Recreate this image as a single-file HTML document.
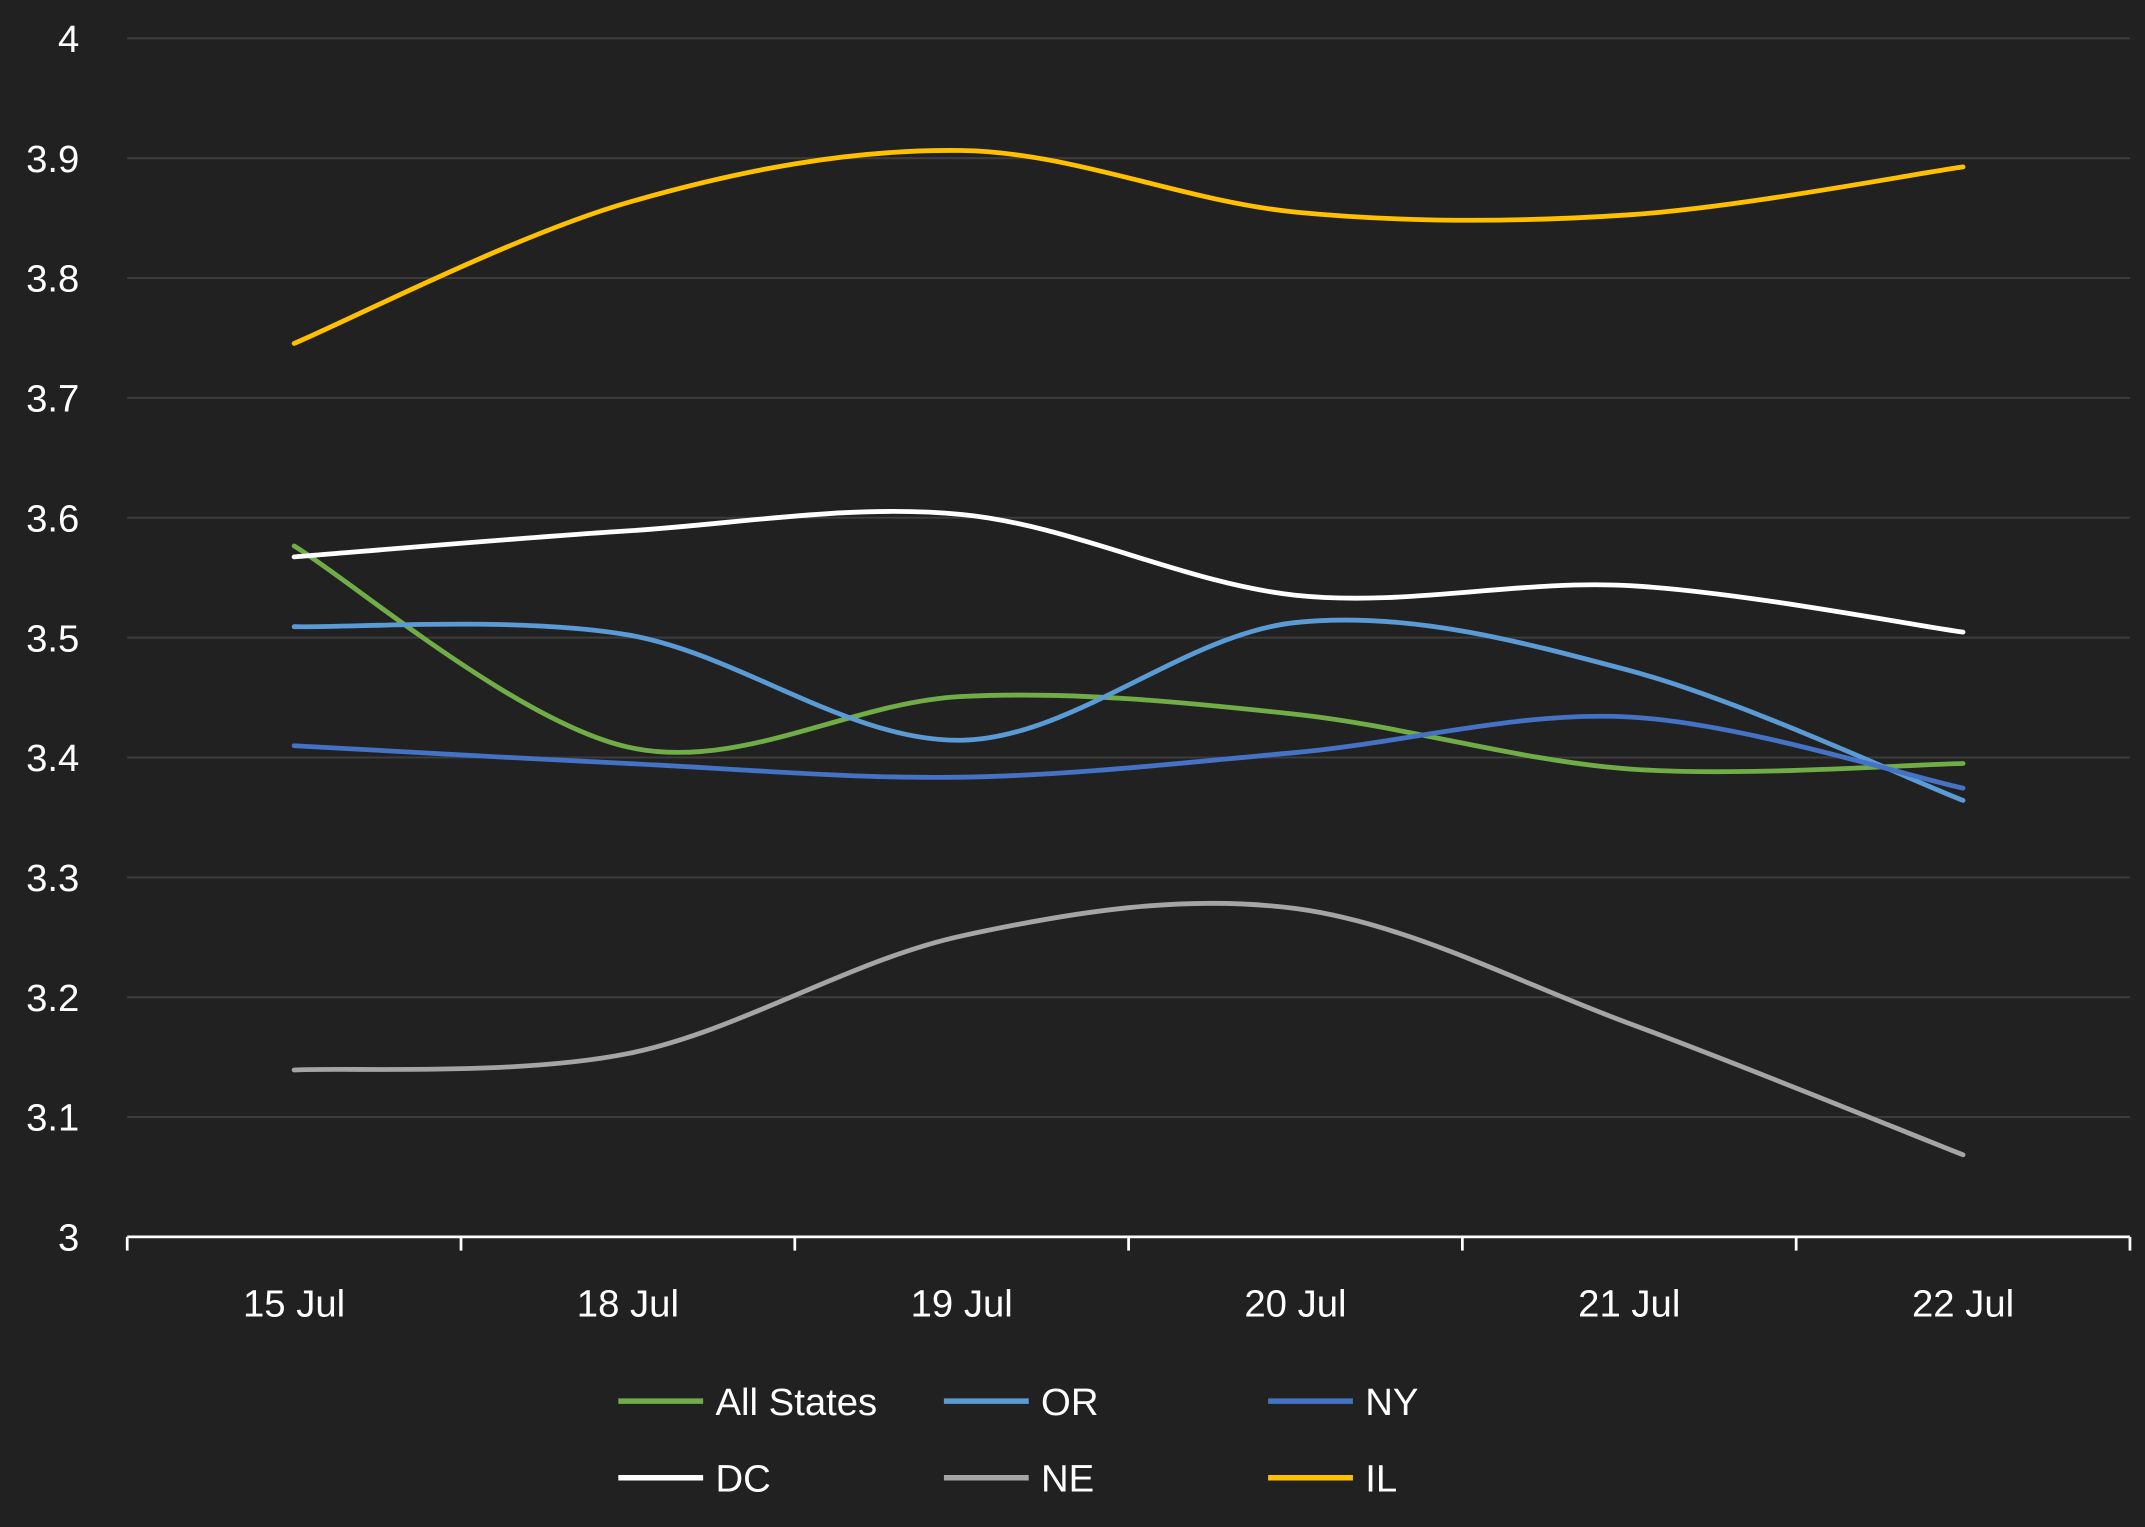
<!DOCTYPE html>
<html><head><meta charset="utf-8"><style>
html,body{margin:0;padding:0;background:#212121;}
svg{display:block;}
text{font-family:"Liberation Sans",sans-serif;fill:#fff;}
</style></head><body>
<svg id="s" width="2145" height="1527" viewBox="0 0 1568 1116" preserveAspectRatio="none" xmlns="http://www.w3.org/2000/svg">
<rect width="1568" height="1116" fill="#212121"/>
<g id="grid" stroke="#3c3c3c" stroke-width="1.5"></g>
<g id="ylab" font-size="28" text-anchor="end"></g>
<line x1="93" y1="904" x2="1557" y2="904" stroke="#fff" stroke-width="2"/>
<g id="ticks" stroke="#fff" stroke-width="2"></g>
<g id="xlab" font-size="28" text-anchor="middle"></g>
<g id="series" fill="none" stroke-width="3.5" stroke-linecap="round"></g>
<g font-size="28" stroke-width="4">
<line x1="452" y1="1024" x2="514" y2="1024" stroke="#70ad47"/><text x="523" y="1034">All States</text>
<line x1="690" y1="1024" x2="752" y2="1024" stroke="#5b9bd5"/><text x="761" y="1034">OR</text>
<line x1="927" y1="1024" x2="989" y2="1024" stroke="#4472c4"/><text x="998" y="1034">NY</text>
<line x1="452" y1="1080" x2="514" y2="1080" stroke="#ffffff"/><text x="523" y="1090">DC</text>
<line x1="690" y1="1080" x2="752" y2="1080" stroke="#a5a5a5"/><text x="761" y="1090">NE</text>
<line x1="927" y1="1080" x2="989" y2="1080" stroke="#ffc000"/><text x="998" y="1090">IL</text>
</g>
</svg>
<script>
var NS="http://www.w3.org/2000/svg";
function el(p,t,a,txt){var e=document.createElementNS(NS,t);for(var k in a)e.setAttribute(k,a[k]);if(txt!=null)e.textContent=txt;document.getElementById(p).appendChild(e);}
var labs=["3","3.1","3.2","3.3","3.4","3.5","3.6","3.7","3.8","3.9","4"];
for(var i=0;i<=10;i++){var y=904-87.6*i;if(i>0)el("grid","line",{x1:93,x2:1557,y1:y,y2:y});el("ylab","text",{x:58,y:y+10},labs[i]);}
for(var i=0;i<7;i++){var x=93+244*i;el("ticks","line",{x1:x,x2:x,y1:904,y2:914});}
var xl=["15 Jul","18 Jul","19 Jul","20 Jul","21 Jul","22 Jul"];
for(var i=0;i<6;i++)el("xlab","text",{x:215+244*i,y:962},xl[i]);
var S=[
["#70ad47",[399,546,509,522,562,558]],
["#5b9bd5",[458,464,541,455,490,585]],
["#4472c4",[545,558,568,550,524,576]],
["#a5a5a5",[782,770,684,664,748,844]],
["#ffffff",[407,388,376,435,428,462]],
["#ffc000",[251,148,110,155,157,122]]];
S.forEach(function(s){var ys=s[1],P=ys.map(function(y,i){return[215+244*i,y]});
var d="M"+P[0][0]+","+P[0][1];
for(var i=0;i<P.length-1;i++){var p0=P[i-1]||P[i],p1=P[i],p2=P[i+1],p3=P[i+2]||P[i+1];
var c1=[p1[0]+(p2[0]-p0[0])/6,p1[1]+(p2[1]-p0[1])/6],c2=[p2[0]-(p3[0]-p1[0])/6,p2[1]-(p3[1]-p1[1])/6];
d+=" C"+c1+" "+c2+" "+p2;}
el("series","path",{d:d,stroke:s[0]});});
</script>
</body></html>
